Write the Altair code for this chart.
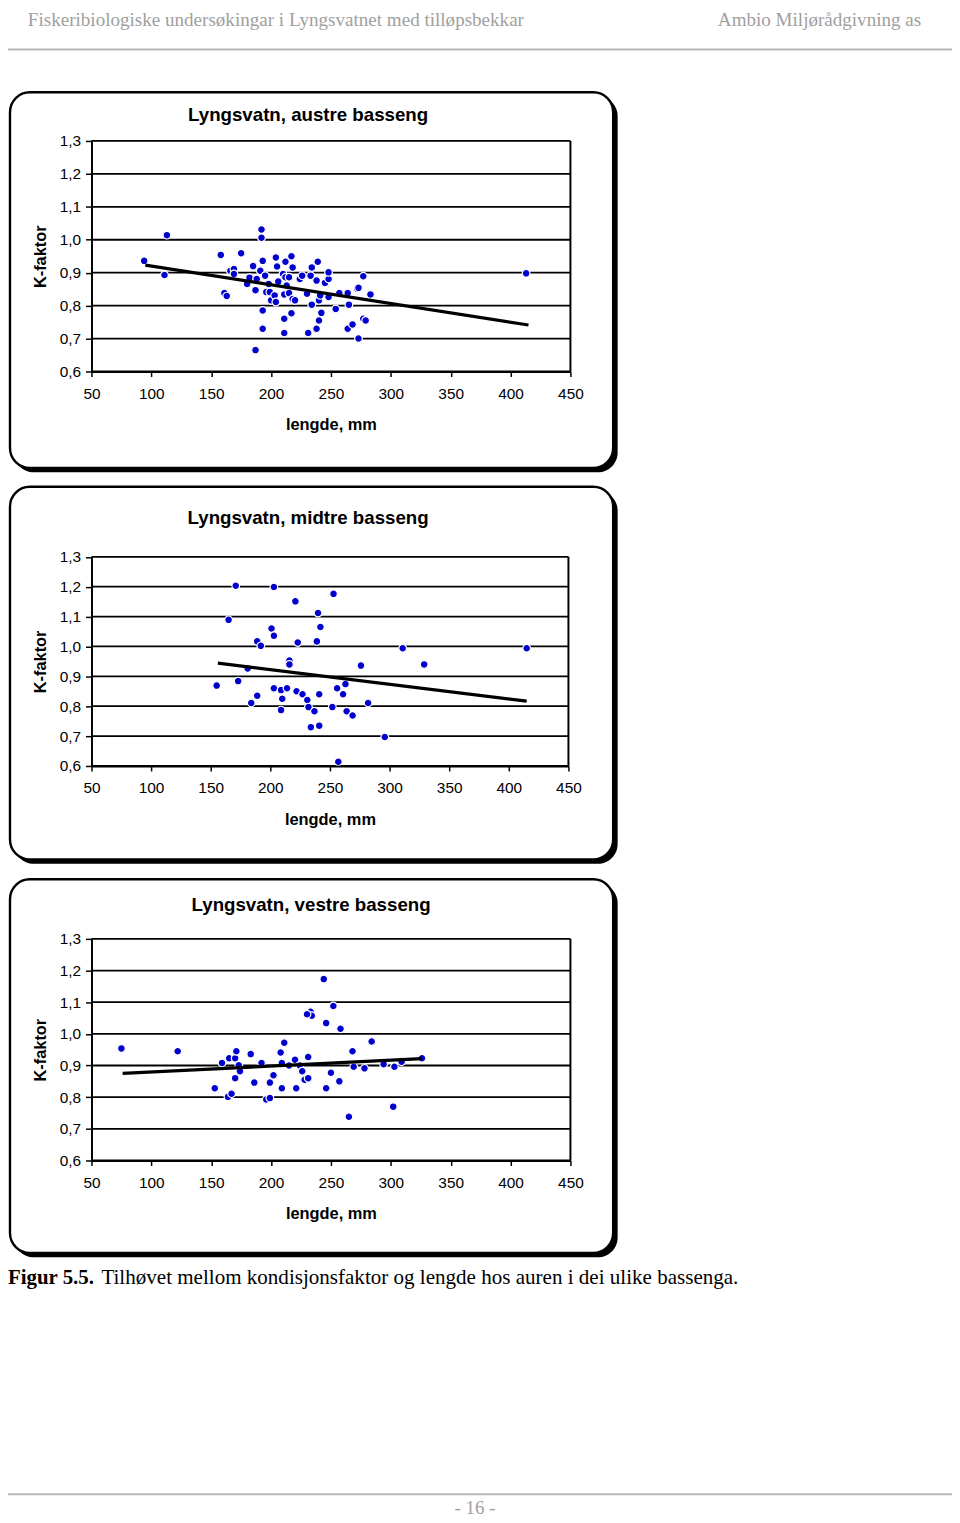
import altair as alt
import pandas as pd

# ---------------- data ----------------
x_ticks = [50, 100, 150, 200, 250, 300, 350, 400, 450]
y_ticks = [0.6, 0.7, 0.8, 0.9, 1.0, 1.1, 1.2, 1.3]

aus_len = [94, 111, 113, 158, 161, 163, 175, 166, 169, 169,
           180, 182, 185, 187, 188, 187, 192, 192, 193, 191,
           195, 193, 193, 196, 199, 198, 200, 204, 205, 203,
           204, 206, 210, 211, 211, 211, 212, 212, 213, 215,
           215, 217, 217, 218, 218, 220, 224, 226, 230, 231,
           233, 234, 234, 238, 238, 239, 240, 240, 241, 242,
           245, 248, 248, 248, 254, 257, 264, 264, 265, 268,
           272, 273, 273, 277, 277, 279, 283, 413]
aus_k = [0.936, 0.893, 1.014, 0.954, 0.838, 0.829, 0.959, 0.906, 0.911, 0.896,
         0.866, 0.885, 0.920, 0.847, 0.881, 0.665, 1.031, 1.006, 0.936, 0.906,
         0.891, 0.785, 0.730, 0.841, 0.841, 0.866, 0.816, 0.946, 0.919, 0.831,
         0.811, 0.873, 0.896, 0.834, 0.760, 0.717, 0.933, 0.886, 0.861, 0.886,
         0.838, 0.950, 0.777, 0.916, 0.820, 0.816, 0.881, 0.891, 0.836, 0.717,
         0.891, 0.916, 0.803, 0.876, 0.730, 0.933, 0.755, 0.816, 0.831, 0.778,
         0.869, 0.881, 0.901, 0.826, 0.790, 0.838, 0.838, 0.730, 0.803, 0.743,
         0.851, 0.854, 0.700, 0.889, 0.760, 0.755, 0.834, 0.898]
aus_trend_len = [95, 415]
aus_trend_k = [0.923, 0.741]

mid_len = [171, 203, 253, 221, 240, 165, 242, 201, 203, 189,
           192, 223, 239, 216, 216, 181, 155, 173, 203, 209,
           214, 210, 189, 184, 222, 227, 231, 209, 232, 237,
           234, 241, 241, 252, 257, 256, 263, 261, 264, 269,
           276, 282, 296, 311, 329, 415]
mid_k = [1.203, 1.199, 1.176, 1.151, 1.112, 1.089, 1.065, 1.060, 1.036, 1.017,
         1.002, 1.013, 1.017, 0.953, 0.940, 0.926, 0.869, 0.884, 0.860, 0.854,
         0.860, 0.825, 0.835, 0.811, 0.850, 0.840, 0.821, 0.787, 0.797, 0.783,
         0.730, 0.735, 0.840, 0.797, 0.614, 0.860, 0.874, 0.840, 0.783, 0.769,
         0.936, 0.811, 0.697, 0.994, 0.940, 0.994]
mid_trend_len = [156, 415]
mid_trend_k = [0.944, 0.817]

ves_len = [75, 122, 153, 159, 164, 167, 165, 170, 171, 170,
           173, 174, 183, 186, 192, 196, 199, 199, 202, 208,
           209, 209, 211, 215, 220, 221, 224, 226, 228, 231,
           231, 233, 234, 230, 244, 246, 252, 246, 250, 258,
           257, 265, 268, 269, 278, 284, 294, 302, 303, 309,
           326]
ves_k = [0.954, 0.945, 0.828, 0.908, 0.801, 0.811, 0.923, 0.923, 0.945, 0.860,
         0.901, 0.882, 0.936, 0.846, 0.908, 0.793, 0.797, 0.846, 0.869, 0.941,
         0.908, 0.828, 0.972, 0.900, 0.918, 0.828, 0.900, 0.882, 0.855, 0.860,
         0.927, 1.070, 1.057, 1.062, 1.173, 1.034, 1.088, 0.828, 0.877, 1.016,
         0.850, 0.738, 0.945, 0.896, 0.891, 0.976, 0.904, 0.770, 0.896, 0.912,
         0.923]
ves_trend_len = [76, 326]
ves_trend_k = [0.875, 0.922]

titles = ["Lyngsvatn, austre basseng", "Lyngsvatn, midtre basseng", "Lyngsvatn, vestre basseng"]
x_title = "lengde, mm"
y_title = "K-faktor"
header_left = "Fiskeribiologiske undersøkingar i Lyngsvatnet med tilløpsbekkar"
header_right = "Ambio Miljørådgivning as"
caption_bold = "Figur 5.5."
caption_text = "Tilhøvet mellom kondisjonsfaktor og lengde hos auren i dei ulike bassenga."
page_no = "- 16 -"

# ---------------- layout (pixels, page minus 8px margin) ----------------
W, H = 950, 1510
SANS = "Liberation Sans"
SERIF = "Liberation Serif"
BLUE = "#0000CC"
GRAY = "#a0a0a0"
one = pd.DataFrame({"d": [0]})

# each panel: plot x range, plot y range (top, bottom), box (top, bottom), title pos
panels_geo = [
    dict(x0=84, x1=566, top=129, bot=361, btop=80, bbot=458, tx=302, ty=103),
    dict(x0=84, x1=564, top=547.5, bot=758, btop=477, bbot=852, tx=302, ty=508),
    dict(x0=84, x1=566, top=932, bot=1155, btop=872, bbot=1248, tx=305, ty=898),
]


def text_layer(txt, x, y, size, font=SERIF, weight="normal", color="black",
               align="left", baseline="middle"):
    return alt.Chart(one).mark_text(
        text=txt, font=font, fontSize=size, fontWeight=weight, color=color,
        align=align, baseline=baseline
    ).encode(x=alt.value(x), y=alt.value(y))


def hrule(x1, x2, y, color, width):
    return alt.Chart(one).mark_rule(color=color, strokeWidth=width).encode(
        x=alt.value(x1), x2=alt.value(x2), y=alt.value(y))


def panel(lens, ks, tlen, tk, g):
    xs = alt.Scale(domain=[x_ticks[0], x_ticks[-1]], range=[g["x0"], g["x1"]],
                   nice=False, zero=False)
    ys = alt.Scale(domain=[y_ticks[0], y_ticks[-1]], range=[g["bot"], g["top"]],
                   nice=False, zero=False)
    xaxis = alt.Axis(values=x_ticks, title=x_title, orient="bottom",
                     offset=g["bot"] - H, grid=False, tickSize=5,
                     labelPadding=10, labelFontSize=15.5, labelFont=SANS,
                     labelColor="black", labelFlush=False, labelOverlap=False,
                     titleFont=SANS, titleFontSize=16.5, titleFontWeight="bold",
                     titleColor="black", titleX=(g["x0"] + g["x1"]) / 2,
                     titleY=53.5, titleBaseline="middle", titleAlign="center",
                     domainColor="black", tickColor="black", domainWidth=2,
                     tickWidth=1.5, zindex=1)
    yaxis = alt.Axis(values=y_ticks, title=y_title, orient="left",
                     offset=-g["x0"], grid=False, tickSize=6,
                     labelPadding=5, labelFontSize=15.5, labelFont=SANS,
                     labelColor="black", labelFlush=False, labelOverlap=False,
                     labelExpr="replace(format(datum.value, '.1f'), '.', ',')",
                     titleFont=SANS, titleFontSize=16.5, titleFontWeight="bold",
                     titleColor="black", titleX=-51,
                     titleY=(g["top"] + g["bot"]) / 2,
                     titleAngle=270, titleBaseline="middle", titleAlign="center",
                     domainColor="black", tickColor="black", domainWidth=2,
                     tickWidth=1.5, zindex=1)
    grid = alt.Chart(pd.DataFrame({"k": y_ticks})).mark_rule(
        color="black", strokeWidth=1.8).encode(
        y=alt.Y("k:Q", scale=ys, axis=yaxis),
        x=alt.value(g["x0"]), x2=alt.value(g["x1"]))
    frame = alt.Chart(pd.DataFrame({"x": [x_ticks[-1]]})).mark_rule(
        color="black", strokeWidth=2).encode(
        x=alt.X("x:Q", scale=xs, axis=xaxis),
        y=alt.value(g["top"]), y2=alt.value(g["bot"]))
    pts = alt.Chart(pd.DataFrame({"len": lens, "k": ks})).mark_circle(
        size=60, fill=BLUE, opacity=1, stroke="white", strokeWidth=1.2).encode(
        x=alt.X("len:Q", scale=xs, axis=xaxis),
        y=alt.Y("k:Q", scale=ys, axis=yaxis))
    trend = alt.Chart(pd.DataFrame({"len": tlen, "k": tk})).mark_line(
        color="black", strokeWidth=3.2).encode(
        x=alt.X("len:Q", scale=xs, axis=xaxis),
        y=alt.Y("k:Q", scale=ys, axis=yaxis))
    return alt.layer(grid, frame, pts, trend)


def box(g, title):
    shadow = alt.Chart(one).mark_rect(color="black", cornerRadius=20).encode(
        x=alt.value(6), x2=alt.value(613.5),
        y=alt.value(g["btop"] + 4), y2=alt.value(g["bbot"] + 4.5))
    border = alt.Chart(one).mark_rect(fill="white", stroke="black", strokeWidth=2.4,
                                      cornerRadius=20).encode(
        x=alt.value(2), x2=alt.value(609),
        y=alt.value(g["btop"]), y2=alt.value(g["bbot"]))
    ttl = text_layer(title, g["tx"], g["ty"], 18.8, font=SANS, weight="bold", align="center")
    return [shadow, border, ttl]


decor = []
for g, t in zip(panels_geo, titles):
    decor += box(g, t)

decor += [
    text_layer(header_left, 20, 13, 19.2, color=GRAY, baseline="alphabetic"),
    text_layer(header_right, 919, 13, 19.2, color=GRAY, align="right", baseline="alphabetic"),
    hrule(0, W, 37, "#b8b8b8", 2),
    text_layer(caption_bold, 0, 1273, 21, weight="bold"),
    text_layer(caption_text, 94, 1273, 21.2),
    hrule(0, W, 1491, "#b8b8b8", 2),
    text_layer(page_no, 470, 1505, 19, color=GRAY, align="center"),
]

p1 = panel(aus_len, aus_k, aus_trend_len, aus_trend_k, panels_geo[0])
p2 = panel(mid_len, mid_k, mid_trend_len, mid_trend_k, panels_geo[1])
p3 = panel(ves_len, ves_k, ves_trend_len, ves_trend_k, panels_geo[2])

chart = alt.layer(*decor, p1, p2, p3).resolve_scale(
    x="independent", y="independent"
).resolve_axis(
    x="independent", y="independent"
).properties(
    width=W, height=H, padding=0, autosize=alt.AutoSizeParams(type="none")
).configure_view(stroke=None)

chart.save("out.html", embed_options={"renderer": "svg", "actions": False})
